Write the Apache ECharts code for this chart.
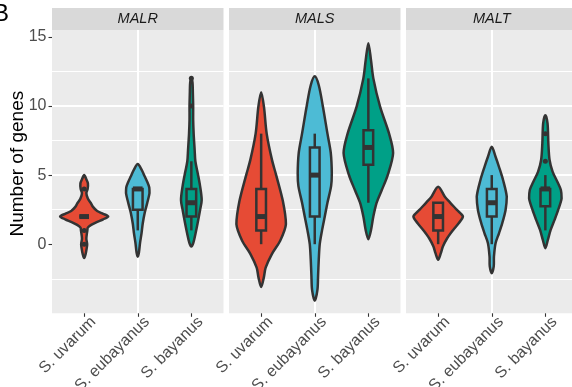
<!DOCTYPE html>
<html><head><meta charset="utf-8">
<script src="https://cdn.jsdelivr.net/npm/echarts@6/dist/echarts.min.js"></script>
<style>html,body{margin:0;padding:0;background:#fff}#c{width:572px;height:387px}</style>
</head><body><div id="c"></div>
<script>
const categories = ['S. uvarum', 'S. eubayanus', 'S. bayanus'];
const genes = ['MALR', 'MALS', 'MALT'];
const fillColors = ['#E64B35', '#4DBBD5', '#00A087'];
const yTicks = [0, 5, 10, 15];
const xTicks = [1, 2, 3];

// violin outlines: [number of genes, half-width in category units]
const violinMALR_uvarum = [[-1.0,0],[-0.7,0.028],[-0.3,0.047],[0.0,0.056],[0.4,0.041],[0.8,0.052],[1.0,0.06],[1.2,0.068],[1.4,0.131],[1.6,0.234],[1.8,0.355],[2.0,0.449],[2.2,0.355],[2.4,0.243],[2.7,0.165],[3.0,0.121],[3.3,0.069],[3.7,0.041],[4.0,0.065],[4.4,0.07],[4.7,0.04],[5.0,0]];
const violinMALR_eubayanus = [[-0.9,0],[-0.6,0.022],[0.1,0.043],[0.8,0.071],[1.5,0.093],[2.3,0.131],[3.0,0.178],[3.7,0.219],[4.1,0.215],[4.5,0.178],[4.9,0.131],[5.4,0.071],[5.8,0]];
const violinMALR_bayanus = [[-0.17,0],[0.1,0.037],[0.8,0.079],[1.5,0.116],[2.5,0.164],[3.2,0.193],[4.2,0.163],[5.15,0.118],[6.0,0.075],[6.8,0.062],[8.0,0.043],[9.0,0.034],[10.0,0.034],[11.0,0.028],[11.7,0.022],[12.0,0]];
const violinMALS_uvarum = [[-3.1,0],[-2.4,0.05],[-1.7,0.084],[-0.7,0.202],[0.25,0.355],[1.45,0.462],[3.1,0.406],[5.0,0.28],[6.1,0.202],[8.0,0.103],[9.95,0.052],[11.0,0]];
const violinMALS_eubayanus = [[-4.1,0],[-3.3,0.05],[-2.3,0.062],[-1.1,0.075],[0,0.093],[1,0.136],[2,0.187],[3,0.237],[4.2,0.305],[5.1,0.318],[6.6,0.299],[8,0.237],[10,0.15],[11.5,0.075],[12.15,0]];
const violinMALS_bayanus = [[0.36,0],[1.03,0.05],[2.0,0.093],[3.0,0.155],[3.9,0.249],[5.0,0.361],[6.6,0.462],[8.0,0.387],[9.95,0.219],[12.0,0.093],[13.3,0.05],[14.55,0]];
const violinMALT_uvarum = [[-1.13,0],[-0.65,0.05],[-0.17,0.088],[0.43,0.168],[1.03,0.28],[1.52,0.383],[2.0,0.462],[2.48,0.35],[3.03,0.219],[3.44,0.125],[4.16,0]];
const violinMALT_eubayanus = [[-2.1,0],[-1.6,0.037],[-0.9,0.041],[0.07,0.071],[0.79,0.135],[1.52,0.196],[2.48,0.258],[3.44,0.28],[4.65,0.211],[5.6,0.135],[6.33,0.071],[7.05,0]];
const violinMALT_bayanus = [[-0.29,0],[0.31,0.047],[1.03,0.099],[1.76,0.172],[2.48,0.239],[3.32,0.303],[3.92,0.29],[4.52,0.224],[5.25,0.135],[6.09,0.079],[7.3,0.056],[8.74,0.041],[9.34,0]];

// box stats per species: [lower whisker, Q1, median, Q3, upper whisker]
const boxMALR = [[2,2,2,2,2],[1,2.5,4,4,4],[1,2,3,4,6]];
const boxMALS = [[0,1,2,4,8],[0,2,5,7,8],[3,5.75,7,8.25,12]];
const boxMALT = [[0,1,2,3,3],[0,2,3,4,5],[1,2.75,4,4,5]];
const outliersMALR = [[0,1,4],[],[10,12]];
const outliersMALS = [[],[],[]];
const outliersMALT = [[],[],[6,8]];

const violins = [
  [violinMALR_uvarum, violinMALR_eubayanus, violinMALR_bayanus],
  [violinMALS_uvarum, violinMALS_eubayanus, violinMALS_bayanus],
  [violinMALT_uvarum, violinMALT_eubayanus, violinMALT_bayanus]
];
const boxes = [boxMALR, boxMALS, boxMALT];
const outliers = [outliersMALR, outliersMALS, outliersMALT];

const FONT = '"Liberation Sans", Arial, Helvetica, sans-serif';
const panelLeft = [52, 229, 406];
const panelW = 171.5, panelTop = 30, panelH = 283.3, stripTop = 8, stripH = 22;
const boxWidth = 0.18;
const dark = '#333333';
const lw = 2.5;

function makeRender(g) {
  return function (params, api) {
    const j = params.dataIndex;
    const cx = j + 1;
    const prof = violins[g][j];
    const pts = [];
    for (let k = 0; k < prof.length; k++) pts.push(api.coord([cx + prof[k][1], prof[k][0]]));
    for (let k = prof.length - 2; k >= 1; k--) pts.push(api.coord([cx - prof[k][1], prof[k][0]]));
    let minX = Infinity, minY = Infinity, maxX = -Infinity, maxY = -Infinity;
    pts.forEach(function (p) {
      minX = Math.min(minX, p[0]); maxX = Math.max(maxX, p[0]);
      minY = Math.min(minY, p[1]); maxY = Math.max(maxY, p[1]);
    });
    const children = [{
      type: 'polygon', shape: { points: pts, smooth: 0.3, smoothConstraint: [[minX, minY], [maxX, maxY]] },
      style: { fill: fillColors[j], stroke: dark, lineWidth: lw, lineJoin: 'round' }
    }];
    const b = boxes[g][j];
    const half = boxWidth / 2;
    const pLo = api.coord([cx, b[0]]), pQ1 = api.coord([cx, b[1]]), pQ3 = api.coord([cx, b[3]]), pHi = api.coord([cx, b[4]]);
    const left = api.coord([cx - half, b[3]]), right = api.coord([cx + half, b[1]]);
    const pMedL = api.coord([cx - half, b[2]]), pMedR = api.coord([cx + half, b[2]]);
    children.push({ type: 'line', shape: { x1: pQ3[0], y1: pQ3[1], x2: pHi[0], y2: pHi[1] }, style: { stroke: dark, lineWidth: lw } });
    children.push({ type: 'line', shape: { x1: pQ1[0], y1: pQ1[1], x2: pLo[0], y2: pLo[1] }, style: { stroke: dark, lineWidth: lw } });
    children.push({ type: 'rect', shape: { x: left[0], y: left[1], width: right[0] - left[0], height: right[1] - left[1] }, style: { fill: fillColors[j], stroke: dark, lineWidth: lw } });
    children.push({ type: 'line', shape: { x1: pMedL[0], y1: pMedL[1], x2: pMedR[0], y2: pMedR[1] }, style: { stroke: dark, lineWidth: lw * 2 } });
    outliers[g][j].forEach(function (o) {
      const p = api.coord([cx, o]);
      children.push({ type: 'circle', shape: { cx: p[0], cy: p[1], r: 2.5 }, style: { fill: dark } });
    });
    return { type: 'group', children: children };
  };
}

const grids = [], xAxes = [], yAxes = [], series = [], graphics = [];
genes.forEach(function (gene, g) {
  grids.push({ left: panelLeft[g], top: panelTop, width: panelW, height: panelH, show: true, backgroundColor: '#EBEBEB', borderWidth: 0, containLabel: false, outerBoundsMode: 'none' });
  xAxes.push({
    type: 'value', gridIndex: g, min: 0.4, max: 3.6, position: 'bottom',
    axisLine: { show: false, onZero: false },
    axisTick: { show: true, customValues: xTicks, length: 3.5, lineStyle: { color: dark, width: 1.1 } },
    axisLabel: { customValues: xTicks, formatter: function (v) { return categories[Math.round(v) - 1] || ''; },
      rotate: 45, fontSize: 16, color: '#4D4D4D', fontFamily: FONT, margin: 4, align: 'right', verticalAlign: 'top',
      padding: [0, -5, 0, 0] },
    splitLine: { show: true, showMinLine: false, showMaxLine: false, lineStyle: { color: '#FFFFFF', width: 2 } }
  });
  yAxes.push({
    type: 'value', gridIndex: g, min: -5, max: 15.5, interval: 5,
    name: g === 0 ? 'Number of genes' : '', nameLocation: 'middle', nameGap: 25, nameMoveOverlap: false,
    nameTextStyle: { fontSize: 19, color: '#000000', fontFamily: FONT, padding: [0, 0, 0, 16] },
    axisLine: { show: false, onZero: false },
    axisTick: { show: g === 0, customValues: yTicks, length: 3.5, lineStyle: { color: dark, width: 1.1 } },
    axisLabel: { show: g === 0, customValues: yTicks, fontSize: 16, color: '#4D4D4D', fontFamily: FONT, margin: 5.5 },
    splitLine: { show: true, showMinLine: false, showMaxLine: false, lineStyle: { color: '#FFFFFF', width: 2 } },
    minorTick: { show: false, splitNumber: 2 },
    minorSplitLine: { show: true, lineStyle: { color: '#FFFFFF', width: 1 } }
  });
  series.push({
    type: 'custom', xAxisIndex: g, yAxisIndex: g,
    data: xTicks.map(function (x) { return [x, 0]; }),
    encode: { x: 0, y: 1 },
    renderItem: makeRender(g), clip: false, z: 5
  });
  graphics.push({ type: 'rect', left: panelLeft[g], top: stripTop, shape: { width: panelW, height: stripH }, style: { fill: '#D9D9D9' } });
  graphics.push({ type: 'text', x: panelLeft[g] + panelW / 2, y: stripTop + stripH / 2,
    style: { text: gene, fontSize: 14.5, fontStyle: 'italic', fontFamily: FONT, fill: '#1A1A1A', align: 'center', verticalAlign: 'middle' } });
});
graphics.push({ type: 'text', x: -7, y: 2, style: { text: 'B', fontSize: 24, fontFamily: FONT, fill: '#000000' } });

const chart = echarts.init(document.getElementById('c'), null, { renderer: 'canvas' });
chart.setOption({
  animation: false,
  backgroundColor: '#FFFFFF',
  grid: grids, xAxis: xAxes, yAxis: yAxes, series: series, graphic: graphics
});
</script></body></html>
